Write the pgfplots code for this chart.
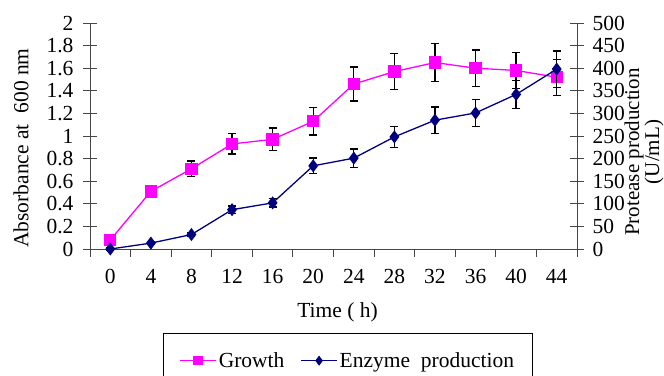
\documentclass[border=0pt]{standalone}
\usepackage{pgfplots}
\pgfplotsset{compat=1.18}
\usepackage{fontspec}
\setmainfont{Liberation Serif}
\definecolor{growthc}{RGB}{255,0,255}
\definecolor{enzc}{RGB}{0,0,128}
\definecolor{axc}{RGB}{70,70,70}
\newcommand{\bigf}{\fontsize{21.5}{24}\selectfont}
\pgfplotsset{
  common/.style={
    scale only axis, width=487pt, height=226pt,
    xmin=-2, xmax=46,
    axis line style={-, axc, line width=0.9pt},
    tick style={axc, line width=0.9pt},
    tick align=center, major tick length=14pt,
    tick label style={font=\bigf},
    /pgf/number format/assume math mode=true,
    clip=false,
  },
  growthstyle/.style={growthc, line width=1.3pt, mark=square*, mark size=5.5pt, mark options={solid, fill=growthc, draw=growthc}},
  enzstyle/.style={enzc, line width=1.3pt, mark=diamond*, mark size=5.5pt, mark options={solid, fill=enzc, draw=enzc}},
  ebars/.style={error bars/.cd, y dir=both, y explicit,
    error bar style={black, line width=1.3pt},
    error mark options={rotate=90, mark size=4pt, black, line width=1.3pt}},
}
\pgfplotstableread{
x y e
0 0.08 0.02
4 0.51 0.05
8 0.71 0.07
12 0.93 0.09
16 0.97 0.10
20 1.13 0.12
24 1.46 0.15
28 1.57 0.16
32 1.65 0.17
36 1.60 0.16
40 1.58 0.16
44 1.52 0.16
}\growth
\pgfplotstableread{
x y e
0 0 2
4 13 3
8 32 4
12 87 8
16 102 9
20 184 17
24 201 20
28 248 23
32 285 29
36 301 30
40 342 31
44 398 40
}\enzyme
\begin{document}
\begin{tikzpicture}
\begin{axis}[common, name=ax,
  ymin=0, ymax=2,
  axis y line*=left, axis x line*=bottom,
  ytick={0,0.2,0.4,0.6,0.8,1,1.2,1.4,1.6,1.8,2},
  yticklabels={0,0.2,0.4,0.6,0.8,1,1.2,1.4,1.6,1.8,2},
  xtick={-2,2,6,10,14,18,22,26,30,34,38,42,46},
  xticklabels={0,4,8,12,16,20,24,28,32,36,40,44,{}},
  xticklabel style={xshift=20.3pt, yshift=-10pt},
  xtick style={/pgfplots/major tick length=8pt, yshift=-4pt},
  yticklabel style={xshift=-6pt},
]
\addplot[growthstyle, ebars] table[x=x, y=y, y error=e] {\growth};
\end{axis}
\begin{axis}[common,
  ymin=0, ymax=500,
  axis y line*=right, axis x line=none,
  ytick={0,50,100,150,200,250,300,350,400,450,500},
  yticklabel style={xshift=5pt},
  legend columns=2,
  legend cell align=left,
  legend image code/.code={\draw[mark repeat=2, mark phase=2, #1, mark size=4pt] plot coordinates {(0pt,0pt) (18pt,0pt) (36pt,0pt)};},
  legend style={at={(0.15,-0.372)}, anchor=north west, draw=black, line width=0.8pt,
    font=\bigf, inner xsep=16pt, inner ysep=17pt,
    /tikz/every even column/.append style={column sep=14pt}},
]
\addlegendimage{growthstyle}
\addlegendentry{Growth}
\addplot[enzstyle, ebars] table[x=x, y=y, y error=e] {\enzyme};
\addlegendentry{Enzyme\ \ production}
\end{axis}
\node[rotate=90, font=\bigf] at ([xshift=-69pt, yshift=-12pt]ax.west) {Absorbance at\ \ 600 nm};
\node[rotate=90, font=\fontsize{21}{20}\selectfont, align=center] at ([xshift=67pt, yshift=-16pt]ax.east) {Protease production\\(U/mL)};
\node[font=\bigf] at ([xshift=4pt, yshift=-63pt]ax.south) {Time ( h)};
\pgfresetboundingbox
\path ([shift={(-90pt,-127pt)}]ax.south west) rectangle ([shift={(87pt,23pt)}]ax.north east);
\end{tikzpicture}
\end{document}
